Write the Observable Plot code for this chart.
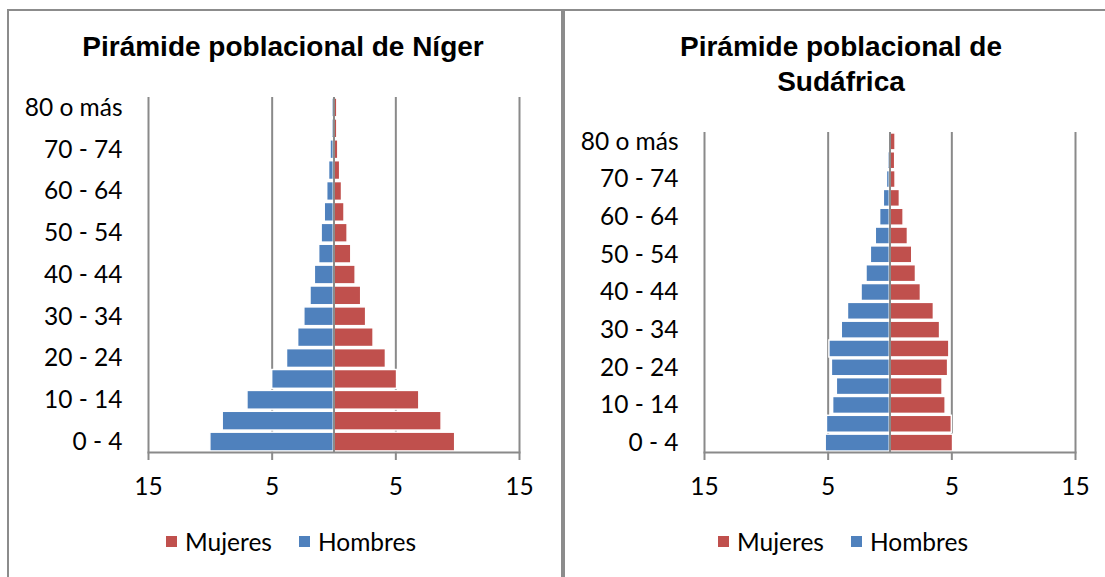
<!DOCTYPE html>
<html>
<head>
<meta charset="utf-8">
<script src="https://cdn.jsdelivr.net/npm/d3@7"></script>
<script src="https://cdn.jsdelivr.net/npm/@observablehq/plot@0.6"></script>
<style>
  html, body { margin: 0; padding: 0; background: white; }
  #wrap { position: relative; width: 1105px; height: 577px; overflow: hidden; background: white; }
  .panel { position: absolute; border: 2px solid #8c8c8c; box-sizing: border-box; }
  .title { position: absolute; font-family: "Liberation Sans", Arial, sans-serif; font-weight: bold; font-size: 28px; text-align: center; color: black; line-height: 35px; }
  .legend { position: absolute; font-family: Lato, sans-serif; font-size: 24.5px; color: black; display: flex; align-items: center; white-space: nowrap; }
  .sw { display: inline-block; width: 11px; height: 11px; margin-right: 8px; }
  .plotbox { position: absolute; top: 0; }
</style>
</head>
<body>
<div id="wrap">
  <div class="panel" style="left:7px; top:9px; width:556px; height:600px;"></div>
  <div class="panel" style="left:563px; top:9px; width:600px; height:600px;"></div>
  <div class="title" style="left:4px; width:558px; top:29px;">Pirámide poblacional de Níger</div>
  <div class="title" style="left:566px; width:550px; top:29px;">Pirámide poblacional de<br>Sudáfrica</div>
  <div class="plotbox" id="p1" style="left:0px;"></div>
  <div class="plotbox" id="p2" style="left:562px;"></div>
  <div class="legend" style="left:166px; top:527px;"><span class="sw" style="background:#C0504D"></span>Mujeres<span class="sw" style="background:#4F81BD; margin-left:27px"></span>Hombres</div>
  <div class="legend" style="left:718px; top:527px;"><span class="sw" style="background:#C0504D"></span>Mujeres<span class="sw" style="background:#4F81BD; margin-left:27px"></span>Hombres</div>
</div>
<script>
// Age groups (bottom to top)
const categories = ["0 - 4","5 - 9","10 - 14","15 - 19","20 - 24","25 - 29","30 - 34","35 - 39","40 - 44","45 - 49","50 - 54","55 - 59","60 - 64","65 - 69","70 - 74","75 - 79","80 o más"];
const labeledCategories = ["0 - 4","10 - 14","20 - 24","30 - 34","40 - 44","50 - 54","60 - 64","70 - 74","80 o más"];
const xTicks = [-15, -5, 5, 15];

// Níger (% of population)
const nigerHombres = [10.0, 9.0, 7.0, 5.0, 3.8, 2.9, 2.4, 1.9, 1.55, 1.2, 1.0, 0.75, 0.55, 0.4, 0.28, 0.15, 0.15];
const nigerMujeres = [9.8, 8.7, 6.9, 5.1, 4.2, 3.2, 2.6, 2.2, 1.75, 1.4, 1.1, 0.85, 0.65, 0.5, 0.35, 0.27, 0.27];

// Sudáfrica (% of population)
const saHombres = [5.2, 5.1, 4.6, 4.3, 4.7, 4.9, 3.9, 3.4, 2.3, 1.9, 1.55, 1.15, 0.8, 0.5, 0.25, 0.15, 0.1];
const saMujeres = [5.1, 5.0, 4.5, 4.25, 4.7, 4.8, 4.05, 3.55, 2.5, 2.1, 1.8, 1.45, 1.1, 0.8, 0.45, 0.42, 0.45];

const BLUE = "#4F81BD", RED = "#C0504D", GRID = "#8a8a8a";

function pyramid(hombres, mujeres, opts) {
  const data = categories.map((c, i) => ({age: c, h: hombres[i], m: mujeres[i]}));
  return Plot.plot({
    width: opts.width,
    height: 577,
    marginLeft: opts.marginLeft,
    marginRight: opts.marginRight,
    marginTop: opts.marginTop,
    marginBottom: 125,
    style: {fontFamily: "Lato, sans-serif", fontSize: "24.5px", color: "black", background: "transparent", overflow: "visible"},
    x: {domain: [-15, 15], label: null},
    y: {domain: categories.slice().reverse(), paddingInner: 0.1, paddingOuter: 0.05, round: false, label: null},
    marks: [
      Plot.gridX(xTicks, {stroke: GRID, strokeOpacity: 1, strokeWidth: 2}),
      Plot.barX(data, {y: "age", x1: d => -d.h, x2: 0, fill: BLUE, stroke: "white", strokeWidth: 1.5}),
      Plot.barX(data, {y: "age", x1: 0, x2: d => d.m, fill: RED, stroke: "white", strokeWidth: 1.5}),
      Plot.ruleX([0], {stroke: GRID, strokeWidth: 2}),
      Plot.frame({anchor: "bottom", stroke: GRID, strokeWidth: 2}),
      Plot.axisX({ticks: xTicks, tickFormat: d => Math.abs(d), tickSize: 8, tickPadding: 17, stroke: GRID, strokeWidth: 2, fill: "black", label: null}),
      Plot.axisY({ticks: labeledCategories, tickSize: 0, tickPadding: 26, fill: "black", label: null})
    ]
  });
}

document.getElementById("p1").appendChild(pyramid(nigerHombres, nigerMujeres, {width: 562, marginLeft: 148, marginRight: 43, marginTop: 97}));
document.getElementById("p2").appendChild(pyramid(saHombres, saMujeres, {width: 543, marginLeft: 142, marginRight: 30, marginTop: 132}));
</script>
</body>
</html>
